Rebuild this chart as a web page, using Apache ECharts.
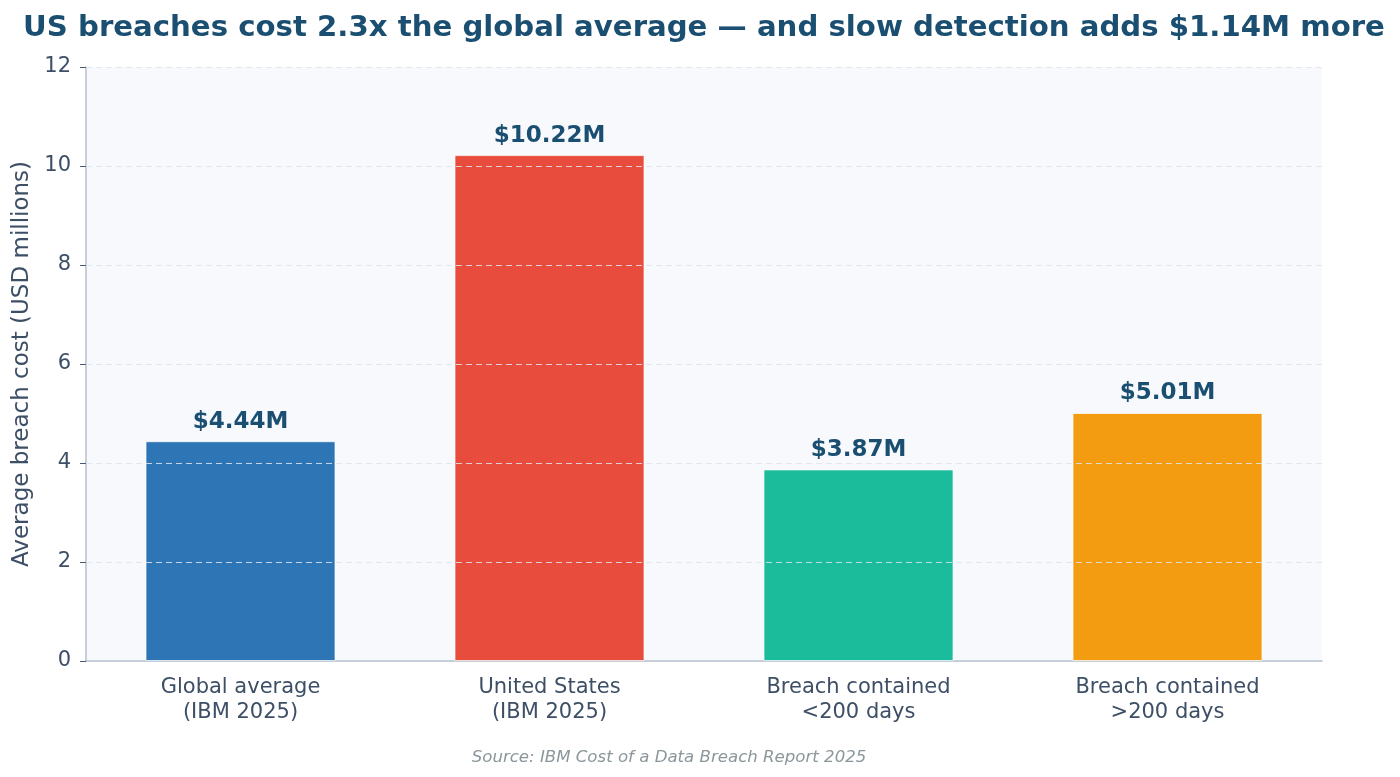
<!DOCTYPE html>
<html>
<head>
<meta charset="utf-8">
<script src="https://cdn.jsdelivr.net/npm/echarts@6/dist/echarts.min.js"></script>
<style>
  html, body { margin: 0; padding: 0; background: #fff; }
  #chart { width: 1400px; height: 777px; }
</style>
</head>
<body>
<div id="chart"></div>
<script>
// data
const categories = ['Global average\n(IBM 2025)', 'United States\n(IBM 2025)', 'Breach contained\n<200 days', 'Breach contained\n>200 days']
const costs = [4.44, 10.22, 3.87, 5.01]
const barColors = ['#2e75b6', '#e74c3c', '#1abc9c', '#f39c12']
const gridTicks = [2, 4, 6, 8, 10, 12]

const font = 'DejaVu Sans'
const chart = echarts.init(document.getElementById('chart'))

const option = {
  backgroundColor: '#ffffff',
  textStyle: { fontFamily: font },
  title: [
    {
      text: 'US breaches cost 2.3x the global average — and slow detection adds $1.14M more',
      left: 699, top: 9, textAlign: 'center',
      textStyle: { fontFamily: font, fontSize: 29.2, fontWeight: 'bold', color: '#1b4f72' }
    },
    {
      text: 'Source: IBM Cost of a Data Breach Report 2025',
      left: 664, top: 744, textAlign: 'center',
      textStyle: { fontFamily: font, fontSize: 16.6, fontStyle: 'italic', fontWeight: 'normal', color: '#8c979b' }
    }
  ],
  grid: {
    left: 86, right: 78, top: 67, bottom: 116,
    show: true, backgroundColor: '#f8f9fc', borderWidth: 0
  },
  xAxis: {
    type: 'category',
    data: categories,
    axisLine: { lineStyle: { color: '#b4c0cd', width: 1.5 } },
    axisTick: { alignWithLabel: true, length: 6, lineStyle: { color: '#4a5a6e' } },
    axisLabel: { fontFamily: font, fontSize: 21, color: '#3d4f66', margin: 14, lineHeight: 25 }
  },
  yAxis: {
    type: 'value',
    min: 0, max: 12, interval: 2,
    name: 'Average breach cost (USD millions)',
    nameLocation: 'middle', nameGap: 47,
    nameTextStyle: { fontFamily: font, fontSize: 23, color: '#3d4f66' },
    axisLine: { show: true, lineStyle: { color: '#b4c0cd', width: 1.5 } },
    axisTick: { show: true, length: 6, lineStyle: { color: '#4a5a6e' } },
    axisLabel: { fontFamily: font, fontSize: 21, color: '#3d4f66', margin: 15 },
    splitLine: { show: false }
  },
  series: [
    {
      type: 'bar',
      barWidth: 190,
      data: costs.map((v, i) => ({ value: v, itemStyle: { color: barColors[i] } })),
      itemStyle: { borderColor: 'rgba(255,255,255,0.7)', borderWidth: 1 },
      label: {
        show: true, position: 'top', distance: 8,
        fontFamily: font, fontSize: 23, fontWeight: 'bold', color: '#1b4f72',
        formatter: p => '$' + p.value.toFixed(2) + 'M'
      },
      // grid drawn on top of the bars like the reference
      markLine: {
        silent: true, symbol: 'none', z: 10,
        label: { show: false },
        lineStyle: { type: [6, 4], color: 'rgba(222,228,237,0.85)', width: 1.2 },
        data: gridTicks.map(t => ({ yAxis: t }))
      }
    }
  ]
}
chart.setOption(option)
</script>
</body>
</html>
